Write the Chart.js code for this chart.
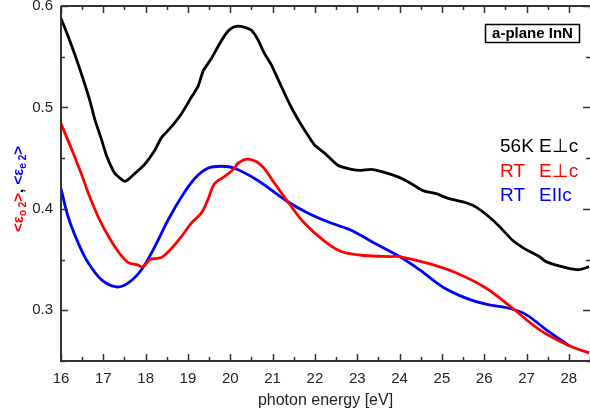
<!DOCTYPE html>
<html>
<head>
<meta charset="utf-8">
<script src="https://cdn.jsdelivr.net/npm/chart.js@4"></script>
<style>
  body { margin: 0; background: #fff; }
  canvas { display: block; }
</style>
</head>
<body>
<canvas id="chart" width="590" height="416"></canvas>
<script>
// 56K, E perpendicular c
const energy56K = [16.00, 16.17, 16.37, 16.53, 16.68, 16.80, 16.96, 17.08, 17.27, 17.43, 17.51, 17.62, 17.75, 17.98, 18.22, 18.37, 18.61, 18.85, 19.08, 19.24, 19.36, 19.55, 19.71, 19.87, 19.99, 20.14, 20.34, 20.50, 20.65, 20.81, 20.97, 21.17, 21.36, 21.56, 21.75, 21.99, 22.23, 22.54, 22.86, 23.09, 23.33, 23.56, 23.80, 24.05, 24.31, 24.55, 24.86, 25.17, 25.57, 25.80, 26.12, 26.35, 26.67, 26.98, 27.30, 27.46, 27.93, 28.24, 28.48];
const eps56K = [0.588, 0.570, 0.547, 0.527, 0.507, 0.488, 0.468, 0.452, 0.435, 0.429, 0.427, 0.430, 0.435, 0.444, 0.458, 0.470, 0.481, 0.494, 0.510, 0.521, 0.536, 0.548, 0.560, 0.571, 0.577, 0.580, 0.579, 0.576, 0.567, 0.553, 0.542, 0.524, 0.507, 0.491, 0.478, 0.463, 0.455, 0.443, 0.439, 0.438, 0.439, 0.437, 0.434, 0.430, 0.424, 0.418, 0.415, 0.410, 0.406, 0.402, 0.392, 0.383, 0.369, 0.360, 0.353, 0.348, 0.342, 0.340, 0.343];

// RT, E perpendicular c
const energyRTo = [16.00, 16.25, 16.41, 16.53, 16.64, 16.88, 17.12, 17.35, 17.59, 17.79, 17.94, 18.10, 18.37, 18.61, 18.85, 19.08, 19.32, 19.47, 19.63, 19.87, 20.10, 20.18, 20.42, 20.73, 21.05, 21.36, 21.75, 22.23, 22.62, 23.17, 23.80, 24.00, 24.70, 25.33, 26.04, 26.67, 27.30, 28.01, 28.48];
const epsRTo = [0.484, 0.459, 0.442, 0.429, 0.416, 0.392, 0.373, 0.358, 0.347, 0.345, 0.343, 0.350, 0.352, 0.361, 0.373, 0.386, 0.396, 0.409, 0.425, 0.432, 0.440, 0.445, 0.449, 0.443, 0.425, 0.407, 0.386, 0.368, 0.358, 0.354, 0.353, 0.353, 0.346, 0.337, 0.322, 0.302, 0.281, 0.265, 0.258];

// RT, E parallel c
const energyRTe = [16.00, 16.17, 16.41, 16.64, 16.96, 17.31, 17.59, 17.90, 18.22, 18.53, 18.85, 19.16, 19.47, 19.79, 20.10, 20.65, 21.36, 21.83, 22.38, 22.86, 23.41, 24.00, 24.47, 25.02, 25.57, 26.04, 26.59, 26.98, 27.46, 28.01];
const epsRTe = [0.420, 0.392, 0.366, 0.347, 0.330, 0.323, 0.327, 0.340, 0.363, 0.389, 0.412, 0.430, 0.440, 0.442, 0.440, 0.428, 0.407, 0.396, 0.386, 0.379, 0.366, 0.353, 0.340, 0.323, 0.312, 0.306, 0.302, 0.296, 0.281, 0.265];

const xTicks = [16, 17, 18, 19, 20, 21, 22, 23, 24, 25, 26, 27, 28];
const yTicks = [0.3, 0.4, 0.5, 0.6];

const FONT = "Arial, 'Liberation Sans', sans-serif";

const toPoints = (xs, ys) => xs.map((x, i) => ({ x, y: ys[i] }));

// box frame with inward major/minor ticks on all sides
const frame = {
    id: 'frame',
    afterDatasetsDraw(chart) {
        const { ctx, chartArea: a, scales: { x, y } } = chart;
        ctx.save();
        ctx.strokeStyle = '#333';
        ctx.lineWidth = 2;
        ctx.beginPath();
        ctx.moveTo(a.left, a.top);
        ctx.lineTo(a.left, a.bottom);
        ctx.lineTo(a.right + 2, a.bottom);
        ctx.moveTo(a.left, a.top);
        ctx.lineTo(a.right + 2, a.top);
        ctx.stroke();

        ctx.lineWidth = 1.5;
        ctx.beginPath();
        for (let v = 16; v <= 28.5; v += 0.5) {
            const px = Math.round(x.getPixelForValue(v)) + 0.5;
            const len = Number.isInteger(v) ? 7 : 4;
            ctx.moveTo(px, a.bottom);
            ctx.lineTo(px, a.bottom - len);
            ctx.moveTo(px, a.top);
            ctx.lineTo(px, a.top + len);
        }
        for (let i = 0; i <= 7; i++) {
            const v = 0.25 + i * 0.05;
            const py = Math.round(y.getPixelForValue(v)) + 0.5;
            const len = i % 2 === 1 ? 7 : 4;
            ctx.moveTo(a.left, py);
            ctx.lineTo(a.left + len, py);
            ctx.moveTo(a.right, py);
            ctx.lineTo(a.right - len, py);
        }
        ctx.stroke();
        ctx.restore();
    }
};

// coloured y title, legend text and sample label
const labels = {
    id: 'labels',
    afterDraw(chart) {
        const { ctx } = chart;
        ctx.save();

        // y axis title, rotated
        const main = 'bold 15px ' + FONT;
        const sub = 'bold 10px ' + FONT;
        const parts = [
            ['<', '#ff0000', main, 0], ['ε', '#ff0000', main, 0],
            ['o', '#ff0000', sub, 4], [' ', '#ff0000', sub, 4], ['2', '#ff0000', sub, 4],
            ['>', '#ff0000', main, 0], [',', '#000', main, 0], [' ', '#000', main, 0],
            ['<', '#0000ff', main, 0], ['ε', '#0000ff', main, 0],
            ['e', '#0000ff', sub, 4], [' ', '#0000ff', sub, 4], ['2', '#0000ff', sub, 4],
            ['>', '#0000ff', main, 0]
        ];
        let total = 0;
        parts.forEach(p => { ctx.font = p[2]; total += ctx.measureText(p[0]).width; });
        ctx.translate(19, 189);
        ctx.rotate(-Math.PI / 2);
        ctx.textBaseline = 'middle';
        ctx.textAlign = 'left';
        let cx = -total / 2;
        parts.forEach(p => {
            ctx.font = p[2];
            ctx.fillStyle = p[1];
            ctx.fillText(p[0], cx, p[3]);
            cx += ctx.measureText(p[0]).width;
        });
        ctx.setTransform(1, 0, 0, 1, 0, 0);

        // series labels
        ctx.font = '19px ' + FONT;
        ctx.textBaseline = 'middle';
        ctx.textAlign = 'left';
        const rows = [['56K', 'E⊥c', '#000', 147], ['RT', 'E⊥c', '#ff0000', 172], ['RT', 'EIIc', '#0000ff', 196]];
        rows.forEach(([a, b, c, yy]) => {
            ctx.fillStyle = c;
            ctx.fillText(a, 500, yy);
            ctx.fillText(b, 539, yy);
        });

        // sample box
        ctx.strokeStyle = '#000';
        ctx.lineWidth = 1.5;
        ctx.strokeRect(485.5, 24.5, 94, 18);
        ctx.font = 'bold 15px ' + FONT;
        ctx.fillStyle = '#000';
        ctx.textAlign = 'center';
        ctx.fillText('a-plane InN', 532.5, 34);
        ctx.restore();
    }
};

const ctx = document.getElementById('chart').getContext('2d');

new Chart(ctx, {
    type: 'line',
    data: {
        datasets: [
            { data: toPoints(energy56K, eps56K), borderColor: '#000', borderWidth: 2.8, tension: 0.2 },
            { data: toPoints(energyRTo, epsRTo), borderColor: '#ff0000', borderWidth: 2.8, tension: 0.35 },
            { data: toPoints(energyRTe, epsRTe), borderColor: '#0000ff', borderWidth: 2.8, tension: 0.35 }
        ]
    },
    options: {
        responsive: false,
        animation: false,
        layout: { padding: { top: 6, left: 0, right: 0, bottom: 0 } },
        elements: { point: { radius: 0 } },
        plugins: { legend: { display: false }, tooltip: { enabled: false } },
        scales: {
            x: {
                type: 'linear',
                min: 16,
                max: 28.5,
                afterFit: s => { s.height = 55; s.paddingLeft = 0; s.paddingRight = 0; },
                afterBuildTicks: s => { s.ticks = xTicks.map(v => ({ value: v })); },
                grid: { display: false, drawTicks: false },
                border: { display: false },
                ticks: { color: '#222', font: { family: FONT, size: 15 }, padding: 9, maxRotation: 0, autoSkip: false },
                title: { display: true, text: 'photon energy [eV]', color: '#222', font: { family: FONT, size: 16 }, padding: { top: 0, bottom: 6 } }
            },
            y: {
                min: 0.25,
                max: 0.6,
                afterFit: s => { s.width = 61; s.paddingTop = 0; s.paddingBottom = 0; },
                afterBuildTicks: s => { s.ticks = yTicks.map(v => ({ value: v })); },
                grid: { display: false, drawTicks: false },
                border: { display: false },
                ticks: { color: '#222', font: { family: FONT, size: 15 }, padding: 8, callback: v => v.toFixed(1) }
            }
        }
    },
    plugins: [frame, labels]
});
</script>
</body>
</html>
